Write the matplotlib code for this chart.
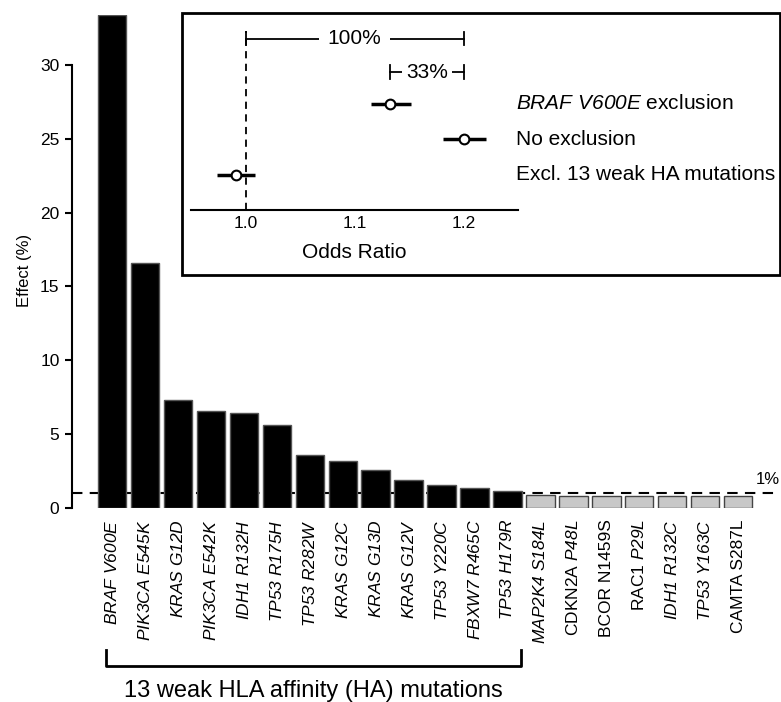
import matplotlib
matplotlib.use("Agg")
import matplotlib.pyplot as plt
from matplotlib.patches import Rectangle
from matplotlib.transforms import blended_transform_factory
import numpy as np

plt.rcParams["font.family"] = ["Liberation Sans", "DejaVu Sans"]
# math text is only used for italic runs, so make all of it italic (digits too)
plt.rcParams["mathtext.fontset"] = "custom"
plt.rcParams["mathtext.rm"] = "Liberation Sans:italic"
plt.rcParams["mathtext.it"] = "Liberation Sans:italic"

# bar chart data
mutations = [r"$BRAF\ V600E$", r"$PIK3CA\ E545K$", r"$KRAS\ G12D$",
             r"$PIK3CA\ E542K$", r"$IDH1\ R132H$", r"$TP53\ R175H$",
             r"$TP53\ R282W$", r"$KRAS\ G12C$", r"$KRAS\ G13D$",
             r"$KRAS\ G12V$", r"$TP53\ Y220C$", r"$FBXW7\ R465C$",
             r"$TP53\ H179R$", r"$MAP2K4\ S184L$", r"CDKN2A $P48L$",
             "BCOR N1459S", r"RAC1 $P29L$", r"$IDH1\ R132C$",
             r"$TP53\ Y163C$", "CAMTA S287L"]
effects = [33.4, 16.6, 7.3, 6.6, 6.4, 5.65, 3.6, 3.15, 2.6, 1.92, 1.54, 1.38, 1.17,
           0.86, 0.84, 0.82, 0.82, 0.82, 0.81, 0.81]
n_weak = 13

# inset data (odds ratios)
or_labels = ["Excl. 13 weak HA mutations", "No exclusion", r"$BRAF\ V600E$ exclusion"]
or_est = [0.991, 1.200, 1.133]
or_lo = [0.974, 1.181, 1.115]
or_hi = [1.009, 1.221, 1.152]

W, H = 781, 702
fig = plt.figure(figsize=(W / 100, H / 100), dpi=100)


def fx(px):
    return px / W


def fy(py):
    return 1 - py / H


# main bar chart
ax = fig.add_axes([fx(72), fy(508), fx(781) - fx(72), fy(15) - fy(508)])
x = np.arange(len(effects))
colors = ["black"] * n_weak + ["#c8c8c8"] * (len(effects) - n_weak)
edges = ["#555555"] * n_weak + ["#444444"] * (len(effects) - n_weak)
ax.bar(x, effects, width=0.86, color=colors, edgecolor=edges, linewidth=1, zorder=3)
xl = (-1.214, 20.30)
ax.set_xlim(*xl)
ax.set_ylim(0, 33.38)
for s in ["top", "right", "bottom"]:
    ax.spines[s].set_visible(False)
ax.spines["left"].set_bounds(0, 30)
ax.spines["left"].set_linewidth(1.5)
ax.set_yticks(np.arange(0, 31, 5))
ax.tick_params(axis="y", length=5, width=1.5, labelsize=12.5, pad=4)
ax.set_xticks(x)
ax.set_xticklabels(mutations, rotation=90, fontsize=12.5, va="top", ha="center")
ax.tick_params(axis="x", length=0, pad=8)

ax.plot([xl[0], 20.2], [1, 1], ls=(0, (5, 3.5)), lw=1.5, color="black", zorder=2, clip_on=False)
ax.text(19.9, 1.96, "1%", fontsize=12, ha="center", va="center")

# bracket under the weak HA mutations
trans = blended_transform_factory(ax.transData, fig.transFigure)
bx0, bx1 = -0.18, n_weak - 1 + 0.41
ax.plot([bx0, bx0, bx1, bx1], [fy(650), fy(666), fy(666), fy(650)], transform=trans,
        clip_on=False, color="black", lw=2)
ax.text((bx0 + bx1) / 2, fy(691), "13 weak HLA affinity (HA) mutations", transform=trans,
        fontsize=17, ha="center", va="center")

fig.text(fx(25), fy(270), "Effect (%)", rotation=90, fontsize=12, ha="center", va="center")

# inset box
fig.add_artist(Rectangle((fx(181.7), fy(275)), fx(779.5) - fx(181.7), fy(12.7) - fy(275),
                         transform=fig.transFigure, fill=False, lw=2, ec="black"))

ins = fig.add_axes([fx(191), fy(210), fx(518) - fx(191), fy(13) - fy(210)])
ins.patch.set_visible(False)
ins.set_xlim(0.95, 1.25)
ins.set_ylim(0, 5.573)
for s in ["top", "right", "left"]:
    ins.spines[s].set_visible(False)
ins.spines["bottom"].set_linewidth(1.5)
ins.set_yticks([])
ins.set_xticks([1.0, 1.1, 1.2])
ins.set_xticklabels(["1.0", "1.1", "1.2"])
ins.tick_params(axis="x", length=0, pad=4, labelsize=12.5)

ins.plot([1, 1], [0, 5.05], ls=(0, (4, 3)), color="black", lw=1.3)
rows = np.arange(1, len(or_est) + 1)
ins.hlines(rows, or_lo, or_hi, color="black", lw=2.5, zorder=2)
ins.plot(or_est, rows, "o", mfc="white", mec="black", ms=7, mew=1.5, zorder=3)
for r, lab in zip(rows, or_labels):
    ins.text(1.248, r, lab, fontsize=15, ha="left", va="center", clip_on=False)


# percentage brackets
def bracket(x0, x1, y, label, pad):
    ins.plot([x0, x1], [y, y], color="black", lw=1.3, zorder=1)
    ins.plot([x0, x0], [y - 0.19, y + 0.19], color="black", lw=1.3)
    ins.plot([x1, x1], [y - 0.19, y + 0.19], color="black", lw=1.3)
    ins.text((x0 + x1) / 2, y, label, fontsize=15, ha="center", va="center", zorder=2,
             bbox=dict(boxstyle="square,pad=%g" % pad, fc="white", ec="none"))


bracket(1.0, or_est[1], 4.85, "100%", 0.43)
bracket(or_est[2], or_est[1], 3.90, "33%", 0.2)

fig.text(fx(354.5), fy(253), "Odds Ratio", fontsize=15, ha="center", va="center")

fig.savefig("out.png", dpi=100)
